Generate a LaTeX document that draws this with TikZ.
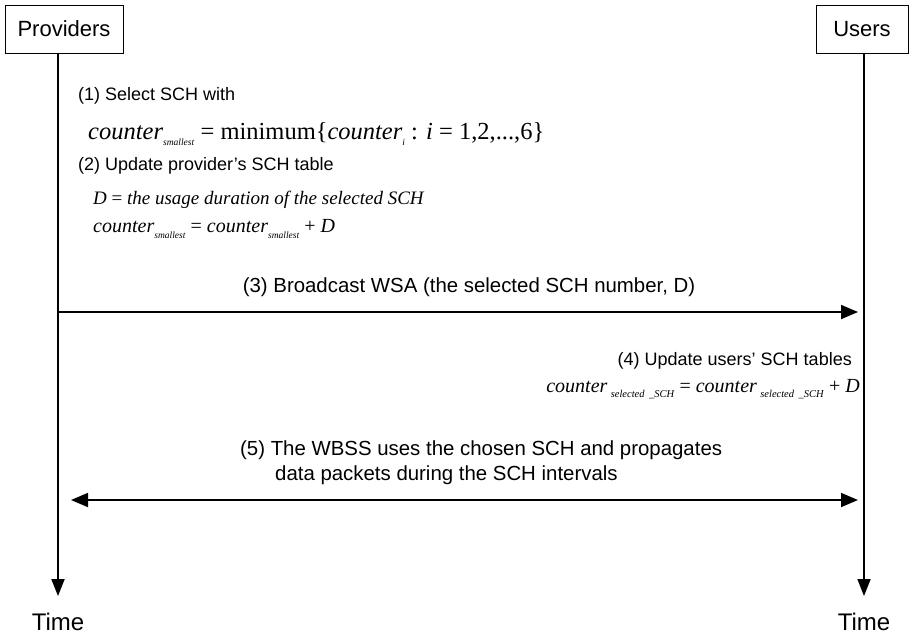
\documentclass[tikz,border=0pt]{standalone}
\usepackage{fontspec}
\setmainfont{Liberation Sans}
\newfontfamily\tms{Liberation Serif}
\usetikzlibrary{arrows.meta}
\newcommand\fsz[1]{\fontsize{#1}{#1}\selectfont}
\newcommand\sbx[2]{\raisebox{-0.28em}{\fsz{#1}\textit{#2}}}
\tikzset{
  actor/.style={draw, line width=1pt, inner sep=0pt, font=\fsz{22}},
  life/.style={line width=1.8pt, -{Triangle[length=17pt,width=13pt]}},
  msg/.style={line width=1.8pt, -{Triangle[length=17pt,width=14pt]}},
  dmsg/.style={line width=1.8pt, {Triangle[length=17pt,width=14pt]}-{Triangle[length=17pt,width=14pt]}},
  txt/.style={inner sep=0pt, font=\fsz{18}},
  big/.style={inner sep=0pt, font=\fsz{20.4}},
  tlabel/.style={inner sep=0pt, font=\fsz{24}}
}
\begin{document}
\begin{tikzpicture}[x=1pt,y=-1pt]
\useasboundingbox (0,0) rectangle (913,635);
% actors
\node[actor, minimum width=118pt, minimum height=48pt] (prov) at (64,29) {Providers};
\node[actor, minimum width=92pt, minimum height=48pt] (users) at (862,29) {Users};
% life lines
\coordinate (pTop) at (58,53);
\coordinate (pEnd) at (58,596);
\coordinate (uTop) at (864,53);
\coordinate (uEnd) at (864,596);
\draw[life] (pTop) -- (pEnd);
\draw[life] (uTop) -- (uEnd);
\node[tlabel] (ptime) at (58,622) {Time};
\node[tlabel] (utime) at (864,622) {Time};
% step 1 and 2
\node[txt, anchor=west] (s1) at (78,96) {(1) Select SCH with};
\node[inner sep=0pt, anchor=west] (f1) at (88,134) {\tms\fsz{24.5}\textit{counter}\sbx{9.5}{smallest} = minimum\{\textit{counter}\sbx{9.5}{i} : \textit{i} = 1,2,...,6\}};
\node[txt, anchor=west] (s2) at (78,166) {(2) Update provider's SCH table};
\node[inner sep=0pt, anchor=west] (f2) at (93,200) {\tms\fsz{19}\textit{D} = \textit{the usage duration of the selected SCH}};
\node[inner sep=0pt, anchor=west] (f3) at (93,229) {\tms\fsz{20}\textit{counter}\sbx{9.5}{smallest} = \textit{counter}\sbx{9.5}{smallest} + \textit{D}};
% step 3
\coordinate (m3s) at (58,312);
\coordinate (m3e) at (858,312);
\draw[msg] (m3s) -- (m3e);
\node[big] (s3) at (469,287) {(3) Broadcast WSA (the selected SCH number, D)};
% step 4
\node[txt, anchor=east] (s4) at (852,361) {(4) Update users' SCH tables};
\node[inner sep=0pt, anchor=east] (f4) at (860,389) {\tms\fsz{20}\textit{counter}\,\sbx{10.5}{selected \,\_SCH} = \textit{counter}\,\sbx{10.5}{selected \,\_SCH} + \textit{D}};
% step 5
\node[big, anchor=west] (s5a) at (240,450) {(5) The WBSS uses the chosen SCH and propagates};
\node[big, anchor=west] (s5b) at (275,475) {data packets during the SCH intervals};
\coordinate (m5s) at (71,500);
\coordinate (m5e) at (858,500);
\draw[dmsg] (m5s) -- (m5e);
\end{tikzpicture}
\end{document}
